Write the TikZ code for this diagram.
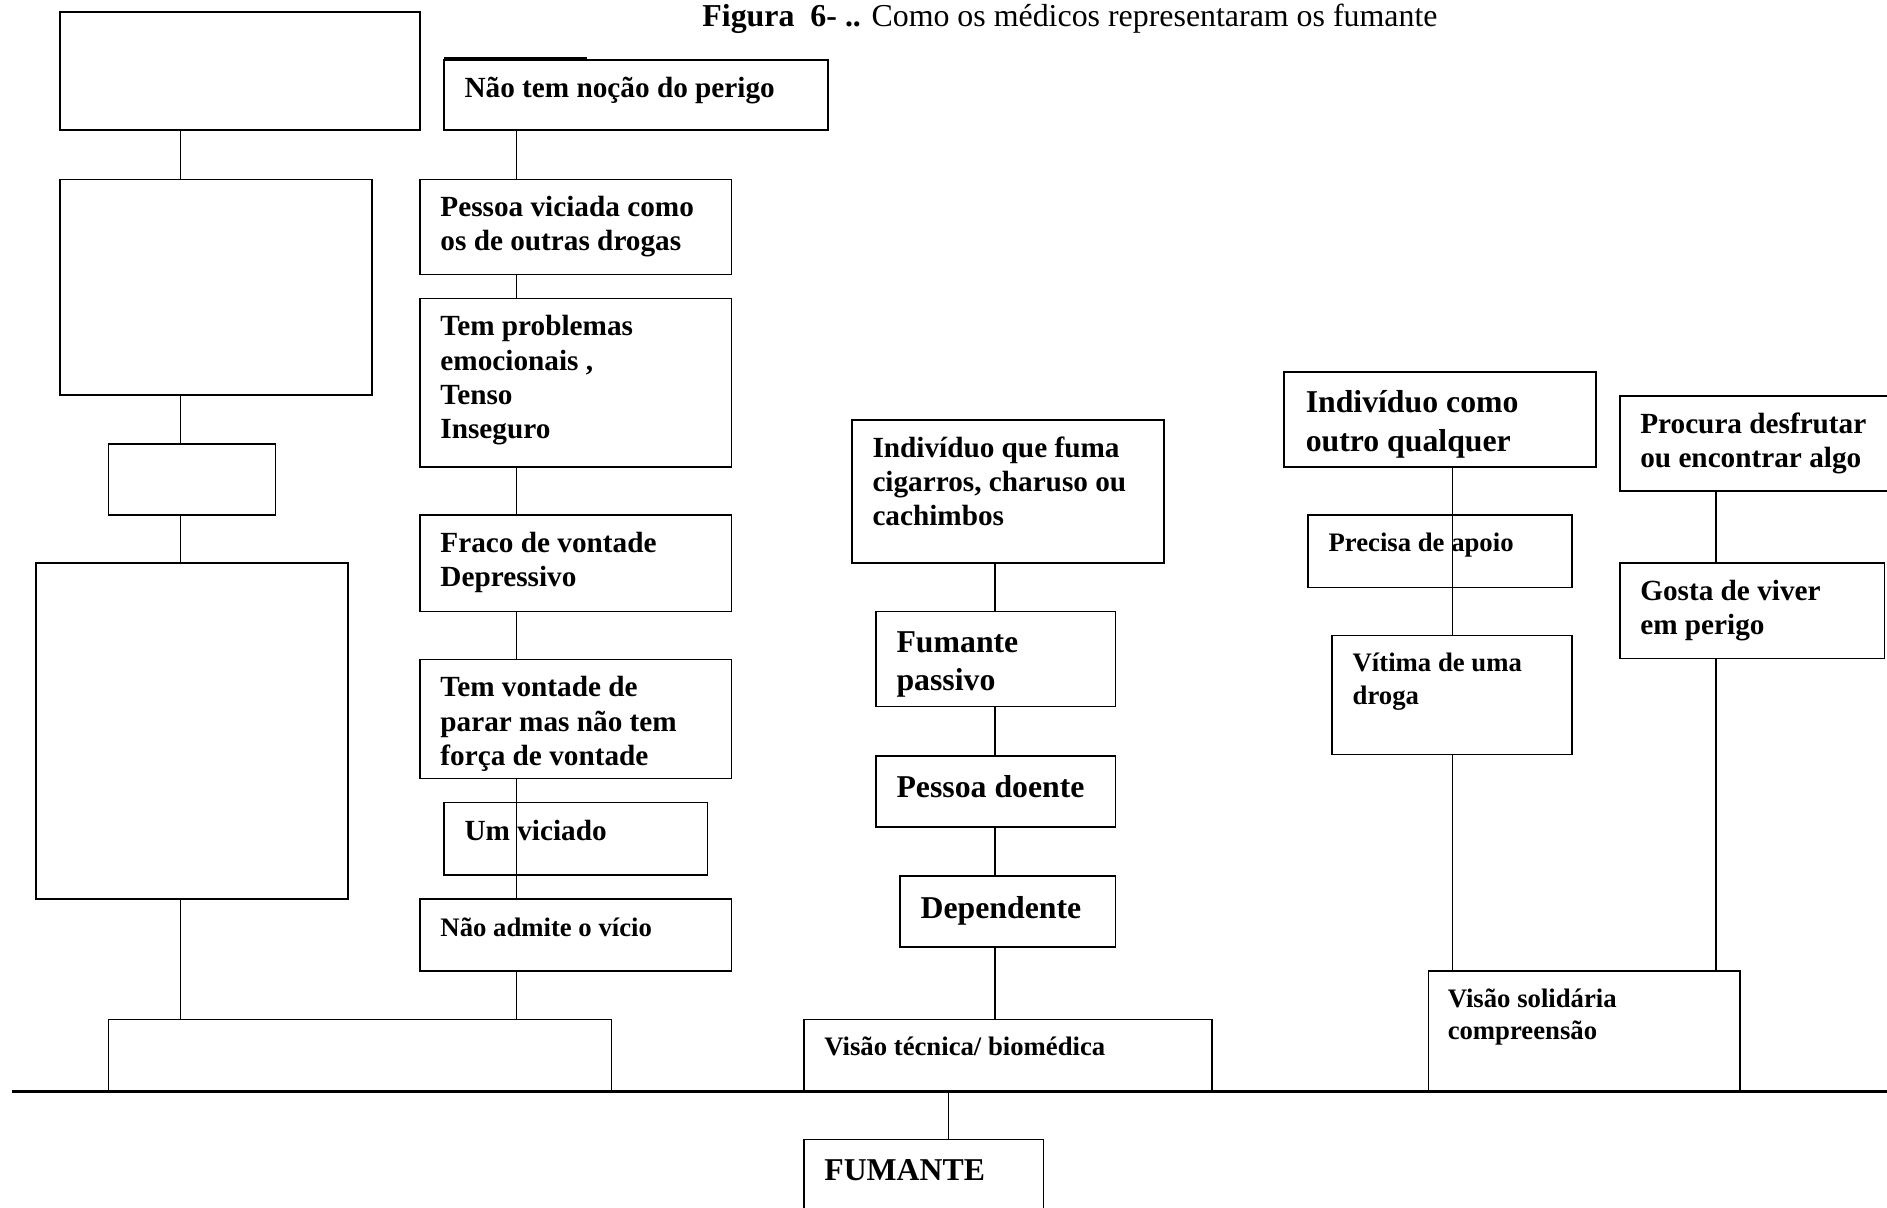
\documentclass[tikz,border=0pt]{standalone}
\usepackage{fontspec}
\setmainfont{Liberation Serif}
\usetikzlibrary{calc}

% multi-line label whose reference point is the baseline of its first line
\newcommand{\lines}[1]{\begin{tabular}[t]{@{}l@{}}#1\end{tabular}}
\newcommand{\fsA}{\fontsize{24.3}{28.5}\selectfont\bfseries}
\newcommand{\fsB}{\fontsize{22.2}{27}\selectfont\bfseries}
\newcommand{\fsC}{\fontsize{26.4}{32}\selectfont\bfseries}

\begin{document}
\begin{tikzpicture}[x=1pt,y=-1pt,
  line width=1.3pt,
  frame/.style={draw=black, rectangle, inner sep=0pt, outer sep=0pt, anchor=north west},
  label/.style={anchor=base west, inner sep=0pt, outer sep=0pt, align=left},
  link/.style={draw=black, line width=1.3pt},
  ground/.style={draw=black, line width=2.2pt}]

\useasboundingbox (0,0) rectangle (1568,1003);
\clip (0,0) rectangle (1568,1003);

% box with given name, top-left corner, width and height
\newcommand{\frameat}[5]{\node[frame, minimum width=#4, minimum height=#5] (#1) at (#2,#3) {};}

% ---- title ----
\node[anchor=base west, inner sep=0pt] (title) at (583,22)
  {\fontsize{26.5}{30}\selectfont\textbf{Figura\ \ 6- ..} Como os médicos representaram os fumante};

% ---- x positions of the vertical links ----
\coordinate (xa) at (150,0);
\coordinate (xb) at (429,0);
\coordinate (xc) at (827,0);
\coordinate (xd) at (1207,0);
\coordinate (xe) at (1426,0);
\coordinate (xf) at (788,0);

% ---- left column (empty boxes) ----
\frameat{a1}{50}{10}{299}{98}
\frameat{a2}{50}{149}{259}{179}
\frameat{a3}{90}{369}{139}{59}
\frameat{a4}{30}{468}{259}{279}
\frameat{a5}{90}{847}{418}{60}

% ---- second column ----
\frameat{b1}{369}{50}{319}{58}
\frameat{b2}{349}{149}{259}{79}
\frameat{b3}{349}{248}{259}{140}
\frameat{b4}{349}{428}{259}{80}
\frameat{b5}{349}{548}{259}{99}
\frameat{b6}{369}{667}{219}{60}
\frameat{b7}{349}{747}{259}{60}

\node[label] (tb1) at ($(b1.north west)+(17,31)$) {\fsA\lines{Não tem noção do perigo}};
\node[label] (tb2) at ($(b2.north west)+(17,31)$) {\fsA\lines{Pessoa viciada como\\os de outras drogas}};
\node[label] (tb3) at ($(b3.north west)+(17,31)$) {\fsA\lines{Tem problemas\\emocionais ,\\Tenso\\Inseguro}};
\node[label] (tb4) at ($(b4.north west)+(17,31)$) {\fsA\lines{Fraco de vontade\\Depressivo}};
\node[label] (tb5) at ($(b5.north west)+(17,31)$) {\fsA\lines{Tem vontade de\\parar mas não tem\\força de vontade}};
\node[label] (tb6) at ($(b6.north west)+(17,31)$) {\fsA\lines{Um viciado}};
\node[label] (tb7) at ($(b7.north west)+(17,31)$) {\fsB\lines{Não admite o vício}};

% ---- third column ----
\frameat{c1}{708}{349}{259}{119}
\frameat{c2}{728}{508}{199}{79}
\frameat{c3}{728}{628}{199}{59}
\frameat{c4}{748}{728}{179}{59}
\frameat{c5}{668}{847}{339}{60}

\node[label] (tc1) at ($(c1.north west)+(17,31)$) {\fsA\lines{Indivíduo que fuma\\cigarros, charuso ou\\cachimbos}};
\node[label] (tc2) at ($(c2.north west)+(17,34)$) {\fsC\lines{Fumante\\passivo}};
\node[label] (tc3) at ($(c3.north west)+(17,35)$) {\fsC\lines{Pessoa doente}};
\node[label] (tc4) at ($(c4.north west)+(17,35)$) {\fsC\lines{Dependente}};
\node[label] (tc5) at ($(c5.north west)+(17,30)$) {\fsB\lines{Visão técnica/ biomédica}};

% ---- fourth column ----
\frameat{d1}{1067}{309}{259}{79}
\frameat{d2}{1087}{428}{219}{60}
\frameat{d3}{1107}{528}{199}{99}
\frameat{d4}{1187}{807}{259}{100}

\node[label] (td1) at ($(d1.north west)+(18,34)$) {\fsC\lines{Indivíduo como\\outro qualquer}};
\node[label] (td2) at ($(d2.north west)+(17,30)$) {\fsB\lines{Precisa de apoio}};
\node[label] (td3) at ($(d3.north west)+(17,30)$) {\fsB\lines{Vítima de uma\\droga}};
\node[label] (td4) at ($(d4.north west)+(16,30)$) {\fsB\lines{Visão solidária\\compreensão}};

% ---- fifth column ----
\frameat{e1}{1346}{329}{224}{79}
\frameat{e2}{1346}{468}{220}{79}

\node[label] (te1) at ($(e1.north west)+(17,31)$) {\fsA\lines{Procura desfrutar\\ou encontrar algo}};
\node[label] (te2) at ($(e2.north west)+(17,31)$) {\fsA\lines{Gosta de viver\\em perigo}};

% ---- bottom box ----
\frameat{f1}{668}{947}{199}{80}
\node[label] (tf1) at ($(f1.north west)+(17,34)$) {\fontsize{26.4}{32}\selectfont\bfseries FUMANTE};

% ---- ground line ----
\coordinate (gl) at (10,907);
\coordinate (gr) at (1568,907);
\draw[ground] (gl) -- (gr);

% ---- vertical links ----
\draw[link] (a1.south -| xa) -- (a2.north -| xa);
\draw[link] (a2.south -| xa) -- (a3.north -| xa);
\draw[link] (a3.south -| xa) -- (a4.north -| xa);
\draw[link] (a4.south -| xa) -- (a5.north -| xa);

\draw[link] (b1.south -| xb) -- (b2.north -| xb);
\draw[link] (b2.south -| xb) -- (b3.north -| xb);
\draw[link] (b3.south -| xb) -- (b4.north -| xb);
\draw[link] (b4.south -| xb) -- (b5.north -| xb);
\draw[link] (b5.south -| xb) -- (b7.north -| xb);
\draw[link] (b7.south -| xb) -- (a5.north -| xb);

\draw[link] (c1.south -| xc) -- (c2.north -| xc);
\draw[link] (c2.south -| xc) -- (c3.north -| xc);
\draw[link] (c3.south -| xc) -- (c4.north -| xc);
\draw[link] (c4.south -| xc) -- (c5.north -| xc);

\draw[link] (d1.south -| xd) -- (d3.north -| xd);
\draw[link] (d3.south -| xd) -- (d4.north -| xd);

\draw[link] (e1.south -| xe) -- (e2.north -| xe);
\draw[link] (e2.south -| xe) -- (d4.north -| xe);

\draw[link] (gl -| xf) -- (f1.north -| xf);

% short raised stroke along the top of the first box of the second column
\coordinate (bt) at (488,48);
\draw[link] (b1.north west) ++(0,-2) -- (b1.north west |- bt) -- (bt);
\end{tikzpicture}
\end{document}
